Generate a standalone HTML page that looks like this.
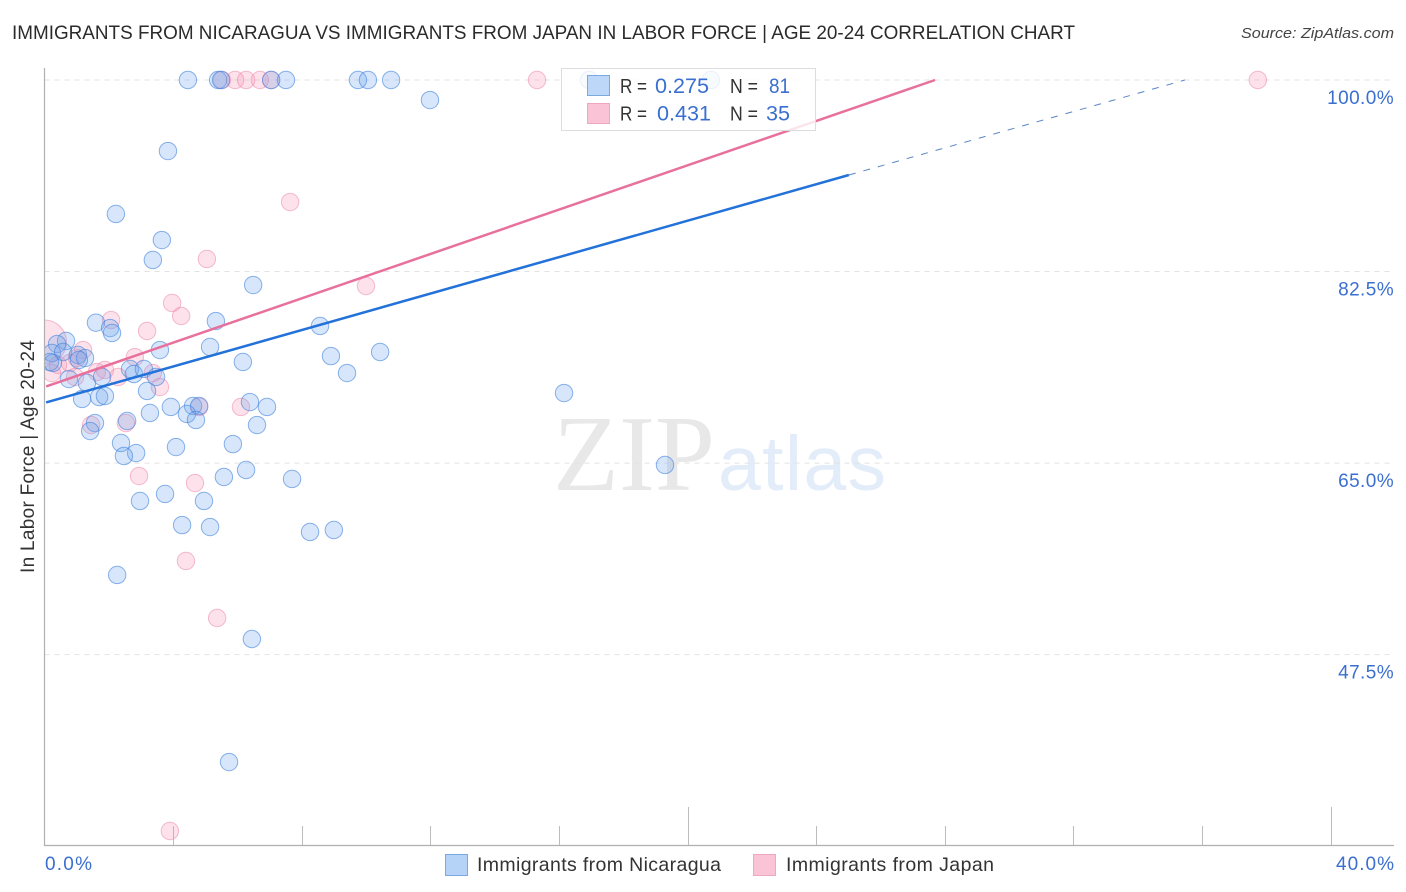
<!DOCTYPE html>
<html lang="en">
<head>
<meta charset="utf-8">
<title>Immigrants from Nicaragua vs Immigrants from Japan in Labor Force | Age 20-24 Correlation Chart</title>
<style>
html,body{margin:0;padding:0;background:#fff;}
svg{display:block;font-family:"Liberation Sans",sans-serif;}
</style>
</head>
<body>
<svg id="chart" xmlns="http://www.w3.org/2000/svg" width="1406" height="892" viewBox="0 0 1406 892">
  <defs>
    <clipPath id="plot-clip" clipPathUnits="userSpaceOnUse"><rect x="45" y="60" width="1350" height="786"></rect></clipPath>
  </defs>
  <rect x="0" y="0" width="1406" height="892" fill="#ffffff"></rect>
  <text x="12" y="39" font-size="19.5" fill="#2b2b2b" textLength="1063" lengthAdjust="spacingAndGlyphs">IMMIGRANTS FROM NICARAGUA VS IMMIGRANTS FROM JAPAN IN LABOR FORCE | AGE 20-24 CORRELATION CHART</text>
  <text x="1241" y="38" font-size="15" font-style="italic" fill="#444444" textLength="153" lengthAdjust="spacingAndGlyphs">Source: ZipAtlas.com</text>
  <g>
    <text x="553" y="490" font-size="108" fill="#e8e8e8" style="font-family:'Liberation Serif',serif" textLength="162">ZIP</text>
    <text x="718" y="490" font-size="77" fill="#e3ecf9" style="font-family:'Liberation Sans',sans-serif" textLength="168">atlas</text>
  </g>
  <g id="grid"></g>
  <g id="axes">
    <line x1="44.5" y1="68" x2="44.5" y2="846" stroke="#b0b0b0" stroke-width="1.2"></line>
    <line x1="44" y1="845.5" x2="1394" y2="845.5" stroke="#b0b0b0" stroke-width="1.2"></line>
  </g>
  <g id="x-ticks"></g>
  <g id="y-labels"></g>
  <g id="series-japan" clip-path="url(#plot-clip)"></g>
  <g id="series-nicaragua" clip-path="url(#plot-clip)"></g>
  <g id="trends"></g>
  <text transform="translate(34 456.5) rotate(-90)" font-size="19" fill="#333333" text-anchor="middle" textLength="233">In Labor Force | Age 20-24</text>
  <text id="x-label-min" x="45" y="870" font-size="19" fill="#3a6fd0" textLength="47"></text>
  <text id="x-label-max" x="1336" y="870" font-size="19" fill="#3a6fd0" textLength="58"></text>
  <g>
    <rect x="561.5" y="68.5" width="254" height="62" fill="#ffffff" fill-opacity="0.82" stroke="#dddddd" stroke-width="1"></rect>
    <rect x="587.5" y="75.5" width="22" height="20" fill="#b5d3f7" fill-opacity="0.9" stroke="#7aa8e0"></rect>
    <rect x="587.5" y="103.5" width="22" height="20" fill="#fbc4d6" stroke="#f0a8c0"></rect>
    <text x="620" y="93" font-size="20" fill="#333333" textLength="27" lengthAdjust="spacingAndGlyphs">R =</text>
    <text x="655" y="93" font-size="21" fill="#3a6fd0" textLength="54" lengthAdjust="spacingAndGlyphs">0.275</text>
    <text x="730" y="93" font-size="20" fill="#333333" textLength="28" lengthAdjust="spacingAndGlyphs">N =</text>
    <text x="769" y="93" font-size="21" fill="#3a6fd0" textLength="21" lengthAdjust="spacingAndGlyphs">81</text>
    <text x="620" y="120.5" font-size="20" fill="#333333" textLength="27" lengthAdjust="spacingAndGlyphs">R =</text>
    <text x="657" y="120.5" font-size="21" fill="#3a6fd0" textLength="54" lengthAdjust="spacingAndGlyphs">0.431</text>
    <text x="730" y="120.5" font-size="20" fill="#333333" textLength="28" lengthAdjust="spacingAndGlyphs">N =</text>
    <text x="766" y="120.5" font-size="21" fill="#3a6fd0" textLength="24" lengthAdjust="spacingAndGlyphs">35</text>
  </g>
  <g>
    <g>
      <rect x="445.5" y="854.5" width="22" height="21" fill="#b5d3f7" stroke="#7aa8e0"></rect>
      <text x="477" y="871" font-size="19.5" fill="#333333" textLength="244">Immigrants from Nicaragua</text>
    </g>
    <g>
      <rect x="753.5" y="854.5" width="22" height="21" fill="#fbc4d6" stroke="#f0a8c0"></rect>
      <text x="786" y="871" font-size="19.5" fill="#333333" textLength="208">Immigrants from Japan</text>
    </g>
  </g>
</svg>
<script>
const xTickValues = [4, 8, 12, 16, 20, 24, 28, 32, 36, 40];
const xMajorTicks = [20, 40];
const xAxisLabels = ["0.0%", "40.0%"];
const yTickValues = [100, 82.5, 65, 47.5];
const yTickLabels = ["100.0%", "82.5%", "65.0%", "47.5%"];

const nicaraguaX = [4.46,5.40,5.49,7.05,7.51,9.75,10.06,10.78,16.94,20.73,11.99,3.84,2.22,3.65,3.37,6.49,5.33,1.60,2.04,2.10,8.57,0.67,0.39,0.23,0.58,0.26,1.04,1.26,1.07,3.59,5.15,6.17,8.91,10.44,9.41,0.76,1.32,1.79,2.66,2.78,3.09,3.47,3.19,1.17,1.70,1.88,16.16,6.39,6.92,3.93,4.62,4.81,4.43,4.71,3.28,6.61,2.57,1.57,1.42,5.86,2.38,2.85,2.47,4.09,19.30,6.27,5.58,7.70,3.75,2.97,4.96,4.28,5.15,8.26,9.00,2.26,6.45,5.74,0.17];
const nicaraguaY = [100,100,100,100,100,100,100,100,100,100,98.17,93.51,87.76,85.38,83.56,81.27,77.98,77.83,77.34,76.89,77.53,76.16,75.88,75.06,75.15,74.15,74.88,74.60,74.42,75.33,75.61,74.24,74.78,75.15,73.23,72.68,72.32,72.87,73.60,73.14,73.60,72.87,71.59,70.86,71.04,71.13,71.40,70.58,70.13,70.13,70.22,70.22,69.49,68.94,69.58,68.48,68.85,68.66,67.93,66.74,66.84,65.92,65.65,66.47,64.83,64.37,63.73,63.55,62.18,61.54,61.54,59.34,59.16,58.71,58.89,54.78,48.93,37.69,74.24];

const japanX = [5.52,5.93,6.27,6.70,7.05,15.32,37.74,7.64,5.05,10.00,3.97,4.25,2.07,3.19,1.20,2.81,1.63,1.88,2.29,3.37,3.59,1.01,0.79,0.95,6.11,4.81,1.45,2.53,2.94,4.68,4.40,5.37,3.90,0.23,0.42];
const japanY = [100,100,100,100,100,100,100,88.85,83.65,81.18,79.63,78.44,78.07,77.07,75.33,74.69,73.32,73.51,72.87,73.23,71.95,74.60,74.15,72.87,70.13,70.13,68.48,68.66,63.82,63.18,56.06,50.85,31.39,73.23,73.96];
const japanClusterX = [0];
const japanClusterY = [76.06];

const nicaraguaTrendX = [0.05, 25.02];
const nicaraguaTrendY = [70.54, 91.32];
const nicaraguaExtensionX = [25.02, 35.47];
const nicaraguaExtensionY = [91.32, 100];
const japanTrendX = [0.05, 27.7];
const japanTrendY = [72.0, 100];

const SVG_NS = "http://www.w3.org/2000/svg";
function xScale(v) { return 44.5 + v * 32.15; }
function yScale(v) { return 80 + (100 - v) * 10.946; }
function make(tag, parent, attrs) {
  const el = document.createElementNS(SVG_NS, tag);
  for (const k in attrs) el.setAttribute(k, attrs[k]);
  parent.appendChild(el);
  return el;
}

const gridGroup = document.getElementById("grid");
const yLabelGroup = document.getElementById("y-labels");
yTickValues.forEach(function (v, i) {
  const y = yScale(v);
  const g = make("line", gridGroup, { x1: 44.5, y1: y, x2: 1394, y2: y, stroke: "#e2e2e2", "stroke-width": 1, "stroke-dasharray": "5 5" });
  
  
  const t = make("text", yLabelGroup, { x: 1394, y: y + 24, "font-size": 19, fill: "#3a6fd0", "text-anchor": "end", "letter-spacing": "0.4" });
  t.textContent = yTickLabels[i];
  
  
});

const xTickGroup = document.getElementById("x-ticks");
xTickValues.forEach(function (v) {
  const x = Math.round(xScale(v)) + 0.5;
  const top = xMajorTicks.indexOf(v) >= 0 ? 807 : 826;
  const tick = make("line", xTickGroup, { x1: x, y1: top, x2: x, y2: 845, stroke: "#bcbcbc", "stroke-width": 1 });
  
  
});
document.getElementById("x-label-min").textContent = xAxisLabels[0];
document.getElementById("x-label-max").textContent = xAxisLabels[1];

function drawPoints(groupId, xs, ys, radius, fill, fillOpacity, stroke) {
  const group = document.getElementById(groupId);
  xs.forEach(function (v, i) {
    const c = make("circle", group, { cx: xScale(v), cy: yScale(ys[i]), r: radius, fill: fill, "fill-opacity": fillOpacity, stroke: stroke, "stroke-opacity": 0.6, "stroke-width": 1 });
    
    
  });
}
drawPoints("series-japan", japanClusterX, japanClusterY, 22, "#f78fb0", 0.26, "#ef8fb0");
drawPoints("series-japan", japanX, japanY, 8.7, "#f78fb0", 0.26, "#ef8fb0");
drawPoints("series-nicaragua", nicaraguaX, nicaraguaY, 8.7, "#6ea6ec", 0.28, "#3f82dc");

function drawLine(xs, ys, stroke, width, dash, name) {
  const group = document.getElementById("trends");
  const l = make("line", group, { x1: xScale(xs[0]), y1: yScale(ys[0]), x2: xScale(xs[1]), y2: yScale(ys[1]), stroke: stroke, "stroke-width": width });
  if (dash) l.setAttribute("stroke-dasharray", dash);
  
  
}
drawLine(nicaraguaTrendX, nicaraguaTrendY, "#2272d9", 2.5, null, "nicaragua-trend-line");
drawLine(nicaraguaExtensionX, nicaraguaExtensionY, "#5a86c4", 1, "7 8", "nicaragua-trend-extension");
drawLine(japanTrendX, japanTrendY, "#e8709c", 2.5, null, "japan-trend-line");
</script>
</body>
</html>
